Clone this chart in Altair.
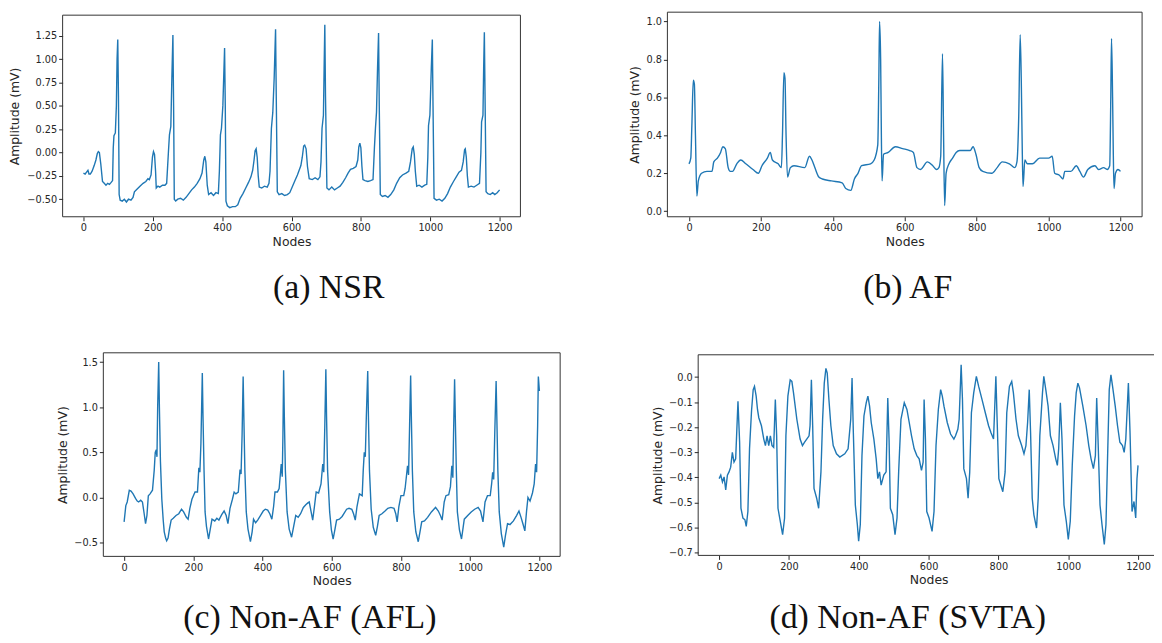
import altair as alt
import pandas as pd

# ---------------- data ----------------
nsr_x = [0, 5, 9, 13, 16, 20, 25, 31, 36, 40, 43, 46, 50, 55, 60, 65, 70, 75, 80, 84, 86, 88, 92, 95, 97, 99, 101, 103, 106, 112, 118, 124, 130, 137, 143, 147, 155, 163, 172, 180, 186, 190, 195, 199, 202, 205, 208, 210, 215, 220, 228, 235, 240, 245, 248, 252, 255, 258, 260, 262, 266, 272, 280, 288, 296, 304, 312, 320, 328, 336, 342, 347, 350, 353, 357, 361, 368, 375, 382, 389, 392, 395, 398, 402, 407, 409, 411, 415, 422, 430, 438, 445, 452, 460, 468, 476, 483, 488, 492, 495, 498, 501, 504, 507, 514, 522, 530, 535, 538, 542, 546, 550, 554, 556, 559, 564, 572, 580, 588, 595, 602, 610, 617, 622, 627, 631, 635, 638, 642, 646, 651, 660, 668, 676, 682, 685, 688, 692, 694, 696, 698, 702, 708, 716, 724, 732, 740, 748, 756, 763, 770, 778, 786, 791, 794, 797, 800, 803, 806, 812, 820, 828, 835, 839, 842, 845, 848, 851, 853, 856, 862, 870, 878, 886, 895, 903, 912, 920, 930, 938, 943, 948, 951, 954, 957, 961, 968, 976, 984, 990, 993, 995, 999, 1003, 1006, 1008, 1011, 1018, 1026, 1034, 1042, 1050, 1058, 1067, 1075, 1083, 1090, 1095, 1099, 1101, 1104, 1107, 1110, 1118, 1126, 1134, 1142, 1146, 1148, 1152, 1154, 1156, 1158, 1161, 1166, 1173, 1180, 1186, 1193, 1200]
nsr_y = [-0.22, -0.23, -0.21, -0.19, -0.23, -0.23, -0.20, -0.14, -0.08, -0.01, 0.01, 0.00, -0.12, -0.31, -0.33, -0.35, -0.33, -0.34, -0.32, -0.30, 0.05, 0.18, 0.21, 0.50, 1.00, 1.21, 0.60, -0.45, -0.51, -0.52, -0.50, -0.53, -0.50, -0.51, -0.48, -0.42, -0.39, -0.36, -0.33, -0.31, -0.28, -0.29, -0.24, -0.05, 0.01, -0.02, -0.20, -0.38, -0.36, -0.37, -0.35, -0.35, -0.33, 0.00, 0.19, 0.28, 0.80, 1.26, 0.50, -0.50, -0.52, -0.50, -0.49, -0.51, -0.48, -0.44, -0.40, -0.37, -0.33, -0.28, -0.22, -0.08, -0.04, -0.10, -0.35, -0.45, -0.43, -0.46, -0.43, -0.44, -0.20, 0.19, 0.26, 0.50, 1.12, 0.50, -0.52, -0.57, -0.59, -0.58, -0.58, -0.56, -0.49, -0.44, -0.38, -0.32, -0.26, -0.19, -0.08, 0.02, 0.04, -0.05, -0.25, -0.37, -0.38, -0.36, -0.37, -0.33, -0.20, 0.26, 0.43, 0.80, 1.32, 0.60, -0.42, -0.45, -0.44, -0.46, -0.45, -0.43, -0.37, -0.30, -0.24, -0.19, -0.14, -0.05, 0.07, 0.08, 0.04, -0.15, -0.28, -0.29, -0.27, -0.29, -0.26, -0.10, 0.26, 0.40, 0.90, 1.37, 0.60, -0.38, -0.40, -0.37, -0.40, -0.38, -0.36, -0.32, -0.27, -0.22, -0.18, -0.17, -0.15, -0.08, 0.06, 0.10, 0.05, -0.15, -0.29, -0.30, -0.31, -0.30, -0.29, 0.05, 0.26, 0.43, 0.90, 1.28, 0.50, -0.45, -0.47, -0.46, -0.48, -0.45, -0.40, -0.33, -0.27, -0.24, -0.22, -0.20, -0.10, 0.04, 0.06, -0.02, -0.20, -0.36, -0.35, -0.37, -0.35, -0.34, -0.05, 0.29, 0.40, 0.90, 1.21, 0.50, -0.49, -0.51, -0.50, -0.52, -0.49, -0.44, -0.37, -0.31, -0.26, -0.21, -0.19, -0.10, 0.03, 0.04, -0.05, -0.25, -0.37, -0.36, -0.37, -0.35, -0.33, 0.00, 0.33, 0.40, 0.90, 1.29, 0.60, -0.42, -0.44, -0.45, -0.43, -0.45, -0.43, -0.40]

af_x = [0, 5, 8, 12, 15, 18, 22, 26, 35, 50, 64, 69, 79, 88, 94, 101, 109, 115, 121, 133, 144, 158, 178, 193, 203, 218, 226, 232, 248, 257, 260, 264, 267, 270, 274, 282, 292, 322, 335, 342, 350, 361, 371, 396, 426, 436, 450, 460, 470, 480, 505, 515, 525, 528, 530, 533, 535, 537, 541, 554, 574, 594, 614, 624, 634, 644, 663, 678, 688, 695, 700, 705, 708, 711, 715, 723, 733, 743, 753, 782, 790, 798, 807, 817, 842, 857, 871, 891, 906, 912, 917, 921, 924, 927, 929, 934, 941, 955, 975, 1000, 1010, 1017, 1030, 1040, 1045, 1062, 1077, 1087, 1097, 1109, 1129, 1139, 1153, 1163, 1170, 1173, 1175, 1178, 1180, 1182, 1186, 1193, 1200]
af_y = [0.25, 0.28, 0.45, 0.69, 0.67, 0.40, 0.08, 0.16, 0.20, 0.21, 0.21, 0.26, 0.28, 0.31, 0.34, 0.33, 0.23, 0.21, 0.21, 0.25, 0.27, 0.25, 0.22, 0.20, 0.24, 0.28, 0.31, 0.27, 0.25, 0.23, 0.40, 0.73, 0.70, 0.40, 0.18, 0.23, 0.24, 0.23, 0.29, 0.27, 0.23, 0.18, 0.17, 0.16, 0.15, 0.12, 0.11, 0.17, 0.20, 0.24, 0.25, 0.27, 0.35, 0.70, 1.00, 0.80, 0.40, 0.16, 0.30, 0.31, 0.34, 0.33, 0.32, 0.31, 0.23, 0.22, 0.26, 0.24, 0.22, 0.23, 0.29, 0.83, 0.40, 0.03, 0.20, 0.25, 0.28, 0.31, 0.32, 0.32, 0.34, 0.30, 0.23, 0.21, 0.20, 0.23, 0.26, 0.25, 0.23, 0.26, 0.50, 0.93, 0.70, 0.30, 0.13, 0.27, 0.25, 0.25, 0.28, 0.28, 0.29, 0.20, 0.19, 0.17, 0.21, 0.21, 0.24, 0.21, 0.18, 0.22, 0.24, 0.22, 0.23, 0.22, 0.24, 0.60, 0.91, 0.60, 0.30, 0.12, 0.20, 0.22, 0.21]

afl_x = [0, 5, 9, 15, 20, 26, 33, 38, 42, 48, 53, 58, 62, 66, 70, 75, 82, 87, 90, 93, 95, 97, 100, 102, 105, 109, 113, 116, 120, 123, 127, 131, 136, 142, 150, 158, 166, 172, 180, 185, 190, 196, 205, 212, 216, 219, 222, 226, 228, 231, 234, 238, 244, 249, 254, 262, 268, 274, 282, 289, 295, 300, 306, 313, 318, 323, 330, 335, 338, 341, 344, 346, 349, 353, 358, 365, 370, 374, 380, 386, 394, 402, 408, 415, 421, 427, 432, 436, 443, 448, 454, 457, 459, 461, 463, 466, 471, 477, 484, 490, 496, 503, 510, 518, 525, 531, 535, 540, 545, 550, 555, 562, 569, 574, 577, 580, 583, 585, 588, 594, 599, 604, 609, 614, 622, 630, 643, 650, 658, 663, 668, 673, 680, 688, 691, 694, 697, 700, 704, 706, 709, 714, 720, 727, 732, 737, 745, 754, 762, 771, 780, 785, 789, 794, 800, 808, 812, 819, 822, 825, 828, 830, 833, 837, 843, 850, 855, 860, 868, 877, 888, 900, 908, 914, 919, 925, 930, 938, 943, 947, 950, 952, 955, 957, 960, 963, 969, 975, 979, 983, 993, 1003, 1013, 1023, 1030, 1037, 1043, 1050, 1058, 1062, 1065, 1068, 1071, 1075, 1077, 1080, 1084, 1090, 1097, 1102, 1108, 1115, 1125, 1134, 1141, 1147, 1153, 1158, 1163, 1167, 1173, 1180, 1185, 1189, 1192, 1195, 1197, 1200]
afl_y = [-0.27, -0.09, -0.05, 0.08, 0.07, 0.04, -0.01, -0.04, -0.05, -0.03, -0.05, -0.18, -0.29, -0.20, 0.02, 0.04, 0.08, 0.30, 0.50, 0.53, 0.45, 1.00, 1.50, 1.00, 0.40, -0.02, -0.25, -0.38, -0.45, -0.48, -0.45, -0.35, -0.25, -0.23, -0.20, -0.18, -0.13, -0.16, -0.22, -0.24, -0.12, -0.02, 0.06, 0.06, 0.33, 0.28, 0.60, 1.38, 0.90, 0.30, -0.16, -0.32, -0.46, -0.35, -0.24, -0.26, -0.23, -0.25, -0.19, -0.15, -0.20, -0.29, -0.12, -0.02, 0.06, 0.04, 0.06, 0.31, 0.26, 0.70, 1.34, 0.90, 0.30, -0.16, -0.35, -0.49, -0.38, -0.24, -0.28, -0.25, -0.20, -0.15, -0.13, -0.14, -0.18, -0.24, -0.10, 0.06, 0.06, 0.10, 0.37, 0.23, 0.70, 1.41, 0.90, 0.30, -0.16, -0.35, -0.44, -0.32, -0.20, -0.22, -0.18, -0.11, -0.08, -0.06, -0.05, -0.15, -0.25, -0.10, 0.06, 0.05, 0.15, 0.37, 0.28, 0.80, 1.42, 0.90, 0.30, -0.16, -0.36, -0.46, -0.36, -0.25, -0.24, -0.21, -0.13, -0.12, -0.13, -0.18, -0.25, -0.10, 0.04, 0.02, 0.30, 0.50, 0.45, 0.90, 1.40, 0.90, 0.30, -0.13, -0.33, -0.42, -0.32, -0.20, -0.18, -0.15, -0.12, -0.11, -0.12, -0.18, -0.27, -0.10, 0.02, 0.02, 0.10, 0.35, 0.25, 0.80, 1.35, 0.90, 0.30, -0.16, -0.38, -0.49, -0.38, -0.27, -0.26, -0.22, -0.16, -0.11, -0.15, -0.20, -0.25, -0.05, 0.02, 0.03, 0.12, 0.35, 0.22, 0.70, 1.31, 0.90, 0.30, -0.16, -0.36, -0.46, -0.35, -0.24, -0.20, -0.16, -0.13, -0.11, -0.15, -0.27, -0.05, 0.02, 0.02, 0.15, 0.28, 0.20, 0.70, 1.29, 0.90, 0.30, -0.16, -0.40, -0.55, -0.42, -0.29, -0.30, -0.26, -0.20, -0.15, -0.22, -0.30, -0.37, -0.15, 0.00, -0.04, 0.05, 0.15, 0.37, 0.28, 0.80, 1.34, 1.18]

svta_x = [0, 4.7, 9.5, 14.2, 18.9, 23.7, 28.4, 33.1, 37.9, 42.6, 47.4, 54, 58.7, 62.5, 68.2, 73.9, 77.7, 82.4, 87.1, 92.8, 97.6, 101.3, 106.1, 109.9, 113.7, 121.2, 127.9, 132.6, 137.3, 142.1, 146.8, 151.5, 156.3, 161, 164.8, 168.6, 175.2, 181.9, 187.5, 191.3, 197, 203.6, 208.4, 213.1, 222.6, 232, 238.7, 244.4, 251, 257.6, 260.5, 264.3, 268, 271.8, 279.4, 285.1, 291.7, 296.5, 301.2, 305.9, 309.7, 314.5, 320.1, 326.8, 336.2, 345.7, 359.9, 369.4, 377, 380.8, 384.5, 390.2, 395.9, 399.7, 404.4, 409.2, 414.9, 421.5, 426.2, 431, 435.7, 443.3, 449.9, 454.6, 459.4, 464.1, 471.7, 478.3, 483.1, 486.8, 490.6, 497.3, 503.9, 509.6, 514.3, 520.9, 530.4, 538, 544.6, 551.2, 558.8, 566.4, 573, 579.7, 584.4, 587.2, 591, 594.8, 601.4, 610, 615.6, 621.3, 628, 634.6, 639.3, 644.1, 653.5, 663, 672.5, 677.2, 683.8, 687.6, 693.3, 697.1, 700.9, 708.5, 713.2, 717.9, 722.7, 729.3, 736.9, 743.5, 753, 762.5, 771.9, 778.6, 786.1, 792.8, 796.6, 801.3, 807, 812.7, 819.3, 824, 831.6, 838.2, 843, 850.5, 857.2, 866.6, 873.3, 878.9, 883.7, 888.4, 892.2, 896.9, 901.7, 909.3, 914, 918.7, 926.3, 930.1, 935.8, 942.4, 949, 956.6, 964.2, 968.9, 972.7, 977.5, 982.2, 987.9, 994.5, 1000.2, 1005.9, 1011.6, 1018.2, 1022.9, 1027.7, 1032.4, 1041.9, 1051.3, 1058.9, 1065.5, 1072.2, 1077.9, 1081.6, 1085.4, 1091.1, 1096.8, 1103.4, 1108.2, 1112.9, 1117.6, 1122.4, 1127.1, 1134.7, 1141.3, 1148, 1155.5, 1160.3, 1165, 1172.4, 1177.1, 1182.8, 1188.5, 1193.4, 1197, 1200]
svta_y = [-0.405, -0.391, -0.418, -0.398, -0.450, -0.391, -0.378, -0.359, -0.300, -0.339, -0.326, -0.096, -0.260, -0.523, -0.562, -0.569, -0.595, -0.536, -0.286, -0.135, -0.050, -0.037, -0.076, -0.129, -0.162, -0.194, -0.247, -0.273, -0.234, -0.273, -0.234, -0.273, -0.280, -0.089, -0.234, -0.523, -0.575, -0.628, -0.562, -0.234, -0.076, -0.011, -0.017, -0.063, -0.168, -0.247, -0.273, -0.260, -0.247, -0.234, -0.194, -0.011, -0.194, -0.444, -0.483, -0.523, -0.378, -0.168, -0.024, 0.035, 0.016, -0.089, -0.194, -0.273, -0.306, -0.319, -0.306, -0.286, -0.168, -0.004, -0.221, -0.510, -0.588, -0.654, -0.588, -0.313, -0.155, -0.102, -0.076, -0.116, -0.181, -0.247, -0.326, -0.405, -0.378, -0.431, -0.391, -0.378, -0.083, -0.247, -0.523, -0.549, -0.628, -0.562, -0.378, -0.168, -0.102, -0.129, -0.181, -0.234, -0.286, -0.313, -0.326, -0.372, -0.339, -0.089, -0.247, -0.536, -0.562, -0.615, -0.536, -0.273, -0.129, -0.050, -0.076, -0.116, -0.181, -0.227, -0.247, -0.234, -0.208, -0.168, 0.049, -0.089, -0.365, -0.405, -0.483, -0.378, -0.142, -0.063, 0.003, -0.037, -0.089, -0.142, -0.194, -0.221, -0.247, 0.003, -0.181, -0.405, -0.431, -0.457, -0.378, -0.142, -0.037, -0.017, -0.063, -0.168, -0.234, -0.273, -0.306, -0.273, -0.181, -0.050, -0.221, -0.483, -0.549, -0.602, -0.483, -0.234, -0.063, 0.003, -0.050, -0.116, -0.234, -0.273, -0.326, -0.352, -0.286, -0.102, -0.247, -0.510, -0.575, -0.647, -0.575, -0.352, -0.155, -0.063, -0.024, -0.043, -0.116, -0.194, -0.273, -0.326, -0.365, -0.313, -0.083, -0.247, -0.510, -0.588, -0.667, -0.588, -0.313, -0.050, 0.009, -0.037, -0.116, -0.194, -0.260, -0.273, -0.300, -0.247, -0.024, -0.221, -0.536, -0.496, -0.562, -0.405, -0.352]

captions = ["(a) NSR", "(b) AF", "(c) Non-AF (AFL)", "(d) Non-AF (SVTA)"]
x_ticks = [0, 200, 400, 600, 800, 1000, 1200]
nsr_ticks = [-0.5, -0.25, 0.0, 0.25, 0.5, 0.75, 1.0, 1.25]
af_ticks = [0.0, 0.2, 0.4, 0.6, 0.8, 1.0]
afl_ticks = [-0.5, 0.0, 0.5, 1.0, 1.5]
svta_ticks = [-0.7, -0.6, -0.5, -0.4, -0.3, -0.2, -0.1, 0.0]

W, H = 1154, 635
LINE = "#1f77b4"
TXT = "#262626"


def panel(xs, ys, xdom, ydom, xrange_, yrange_, yticks, yfmt, ypad, interp="linear"):
    xsc = alt.Scale(domain=xdom, range=xrange_, nice=False, zero=False)
    ysc = alt.Scale(domain=ydom, range=yrange_, nice=False, zero=False)
    df = pd.DataFrame({"node": xs, "amp": ys})
    box = pd.DataFrame({"x0": [xdom[0]], "x1": [xdom[1]], "y0": [ydom[0]], "y1": [ydom[1]]})
    frame = alt.Chart(box).mark_rect(filled=False, stroke="#333333", strokeWidth=1).encode(
        x=alt.X("x0:Q", scale=xsc, axis=None),
        x2="x1:Q",
        y=alt.Y("y0:Q", scale=ysc, axis=None),
        y2="y1:Q",
    )
    line = alt.Chart(df).mark_line(color=LINE, strokeWidth=1.4, interpolate=interp).encode(
        x=alt.X("node:Q", scale=xsc, axis=alt.Axis(
            orient="bottom", offset=yrange_[0] - H, values=x_ticks, format="d",
            title="Nodes", titlePadding=3, domain=False, grid=False,
            tickSize=4, tickColor=TXT, labelColor=TXT, titleColor=TXT,
            labelFontSize=9.8, titleFontSize=12.5, labelPadding=2,
            labelFlush=False, labelOverlap=False, titleFontWeight="normal",
            labelFont="DejaVu Sans", titleFont="DejaVu Sans")),
        y=alt.Y("amp:Q", scale=ysc, axis=alt.Axis(
            orient="left", offset=-xrange_[0], values=yticks, format=yfmt,
            title="Amplitude (mV)", titlePadding=ypad, domain=False, grid=False,
            tickSize=4, tickColor=TXT, labelColor=TXT, titleColor=TXT,
            labelFontSize=9.8, titleFontSize=12.5, labelPadding=2,
            labelFlush=False, labelOverlap=False, titleFontWeight="normal",
            labelFont="DejaVu Sans", titleFont="DejaVu Sans")),
        order="node:Q",
    )
    return [frame, line]


pa = panel(nsr_x, nsr_y, [-60, 1260], [-0.688, 1.472], [55, 516], [208, 5], nsr_ticks, ".2f", 5)
pb = panel(af_x, af_y, [-60, 1260], [-0.029, 1.049], [664, 1142], [208, 2], af_ticks, ".1f", 5, "monotone")
pc = panel(afl_x, afl_y, [-60, 1260], [-0.6525, 1.6025], [96, 556], [550, 345], afl_ticks, ".1f", 4)
pd_ = panel(svta_x, svta_y, [-60, 1260], [-0.711, 0.089], [695, 1159], [549, 347], svta_ticks, ".1f", 4)


def caption(i, cx, cy):
    return alt.Chart(pd.DataFrame({"cap": [captions[i]]})).mark_text(
        font="Liberation Serif", fontSize=34, color="#111111", baseline="middle", align="center"
    ).encode(text="cap:N", x=alt.value(cx), y=alt.value(cy))


chart = alt.layer(
    *pa, *pb, *pc, *pd_,
    caption(0, 323, 280), caption(1, 906, 280), caption(2, 304, 612), caption(3, 906, 612),
).resolve_scale(x="independent", y="independent").properties(
    width=W, height=H, autosize=alt.AutoSizeParams(type="none"), padding=0,
    background="white",
).configure_view(stroke=None)

chart.save("out.html", embed_options={"renderer": "svg", "actions": False})
